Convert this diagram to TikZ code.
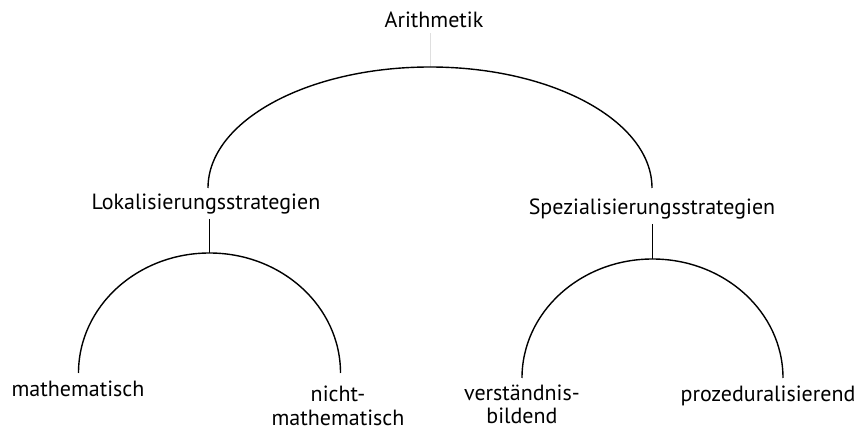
\documentclass[tikz,border=0pt]{standalone}
\usepackage{fontspec}
\setmainfont{PT Sans}
\begin{document}
\begin{tikzpicture}[x=1pt,y=-1pt,
  termtext/.style={font=\fontsize{22}{23.5}\selectfont, inner sep=0pt, align=center, anchor=base},
  branch/.style={line width=1.4pt, black},
  stemline/.style={line width=1.4pt, black, shorten <=4pt}]

\useasboundingbox (0,0) rectangle (868,430);

% Terms (multi-line terms sit on the baseline of their last line)
\node[termtext] (arith)   at (434,28)  {Arithmetik};
\node[termtext] (lokal)   at (206,210) {Lokalisierungsstrategien};
\node[termtext] (spezial) at (652,215) {Spezialisierungsstrategien};
\node[termtext] (mathe)   at (78,397)  {mathematisch};
\node[termtext] (nmathe)  at (338,425) {nicht-\\mathematisch};
\node[termtext] (verst)   at (522,424) {verständnis-\\bildend};
\node[termtext] (proz)    at (768,402) {prozeduralisierend};

% Arc ends and tops
\coordinate (arithL) at (208,188);
\coordinate (arithTop) at (430,67);
\coordinate (lokalL) at (78.5,373);
\coordinate (lokalTop) at (209.5,253);
\coordinate (spezL) at (522,378);
\coordinate (spezTop) at (652.5,259);

% Stems
\draw[gray!25, line width=0.8pt, shorten <=5pt] (arith.south -| arithTop) -- (arithTop);
\draw[stemline] (lokal.south -| lokalTop) -- (lokalTop);
\draw[stemline] (spezial.south -| spezTop) -- (spezTop);

% Arcs
\draw[branch] (arithL) arc[start angle=180, end angle=0, x radius=222pt, y radius=121pt];
\draw[branch] (lokalL) arc[start angle=180, end angle=0, x radius=131pt, y radius=120pt];
\draw[branch] (spezL) arc[start angle=180, end angle=0, x radius=130.5pt, y radius=119pt];

\end{tikzpicture}
\end{document}
